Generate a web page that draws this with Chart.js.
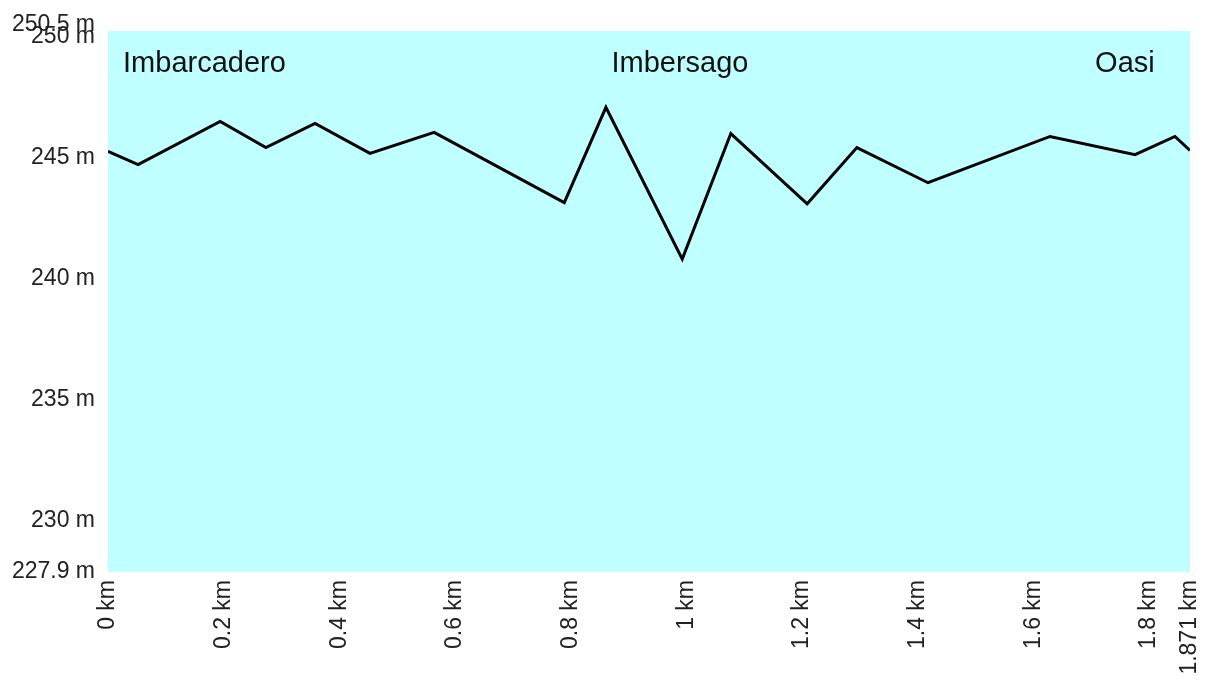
<!DOCTYPE html>
<html>
<head>
<meta charset="utf-8">
<script src="https://cdn.jsdelivr.net/npm/chart.js@4.4.1/dist/chart.umd.min.js"></script>
<style>
  html, body { margin: 0; padding: 0; background: #fff; }
  #wrap { width: 1215px; height: 681px; }
</style>
</head>
<body>
<div id="wrap"><canvas id="profilo"></canvas></div>
<script>
const distanzeKm = [0, 0.052, 0.194, 0.273, 0.358, 0.453, 0.564, 0.789, 0.861, 0.993, 1.077, 1.209, 1.295, 1.418, 1.629, 1.776, 1.845, 1.871];
const quoteM = [245.25, 244.71, 246.49, 245.41, 246.41, 245.17, 246.04, 243.14, 247.07, 240.81, 245.99, 243.09, 245.41, 243.96, 245.87, 245.12, 245.87, 245.29];

const tickKm = [0, 0.2, 0.4, 0.6, 0.8, 1, 1.2, 1.4, 1.6, 1.8, 1.871];
const tickM = [227.9, 230, 235, 240, 245, 250, 250.5];

const luoghi = ['Imbarcadero', 'Imbersago', 'Oasi'];
const luoghiKm = [0.026, 0.989, 1.81];
const luoghiAllinea = ['left', 'center', 'right'];

const sfondoArea = {
    id: 'sfondoArea',
    beforeDraw(chart) {
        const a = chart.chartArea;
        const ctx = chart.ctx;
        ctx.save();
        ctx.fillStyle = '#bfffff';
        ctx.fillRect(a.left, a.top, a.right - a.left, a.bottom - a.top);
        ctx.restore();
    }
};

const nomiLuoghi = {
    id: 'nomiLuoghi',
    afterDatasetsDraw(chart) {
        const ctx = chart.ctx;
        const x = chart.scales.x;
        ctx.save();
        ctx.font = '29px "Liberation Sans", Arial, sans-serif';
        ctx.fillStyle = '#111';
        ctx.textBaseline = 'middle';
        luoghi.forEach((nome, i) => {
            ctx.textAlign = luoghiAllinea[i];
            ctx.fillText(nome, x.getPixelForValue(luoghiKm[i]), 64);
        });
        ctx.restore();
    }
};

const ctx = document.getElementById('profilo').getContext('2d');
new Chart(ctx, {
    type: 'line',
    data: {
        datasets: [{
            data: distanzeKm.map((d, i) => ({ x: d, y: quoteM[i] })),
            borderColor: '#000',
            borderWidth: 3,
            pointRadius: 0,
            tension: 0,
            fill: false
        }]
    },
    options: {
        responsive: true,
        maintainAspectRatio: false,
        animation: false,
        layout: { padding: { top: 31, right: 25, left: 0, bottom: 0 } },
        plugins: { legend: { display: false }, tooltip: { enabled: false } },
        scales: {
            x: {
                type: 'linear',
                min: 0,
                max: 1.871,
                grid: { display: false, drawTicks: false },
                border: { display: false },
                afterBuildTicks: axis => { axis.ticks = tickKm.map(v => ({ value: v })); },
                afterFit: axis => {
                    axis.height = 109;
                    axis.paddingLeft = 0;
                    axis.paddingRight = 0;
                },
                ticks: {
                    autoSkip: false,
                    minRotation: 90,
                    maxRotation: 90,
                    padding: 8,
                    color: '#222',
                    font: { family: '"Liberation Sans", Arial, sans-serif', size: 23 },
                    callback: v => String(v) + ' km'
                }
            },
            y: {
                type: 'linear',
                min: 227.9,
                max: 250.22,
                grid: { display: false, drawTicks: false },
                border: { display: false },
                afterBuildTicks: axis => { axis.ticks = tickM.map(v => ({ value: v })); },
                afterFit: axis => {
                    axis.width = 108;
                    axis.paddingTop = 0;
                    axis.paddingBottom = 0;
                },
                ticks: {
                    autoSkip: false,
                    padding: 13,
                    color: '#222',
                    font: { family: '"Liberation Sans", Arial, sans-serif', size: 23 },
                    callback: v => String(v) + ' m'
                }
            }
        }
    },
    plugins: [sfondoArea, nomiLuoghi]
});
</script>
</body>
</html>
